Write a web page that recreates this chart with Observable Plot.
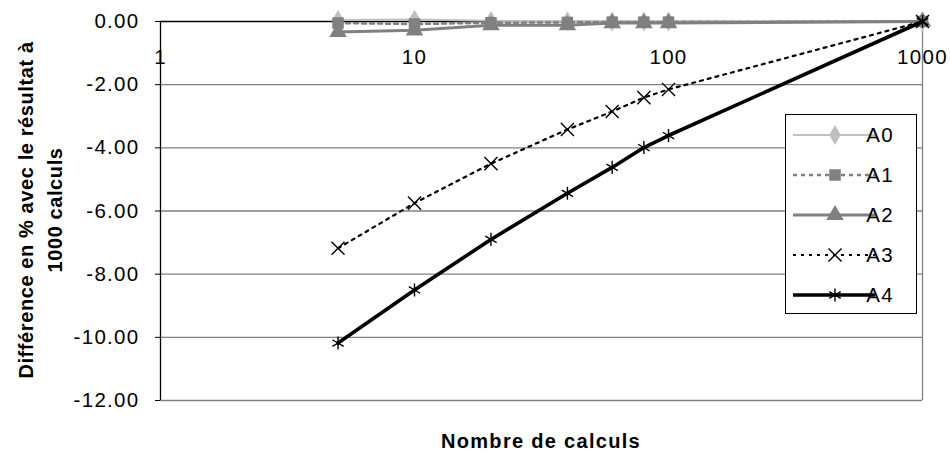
<!DOCTYPE html>
<html><head><meta charset="utf-8">
<script src="https://cdn.jsdelivr.net/npm/d3@7"></script>
<script src="https://cdn.jsdelivr.net/npm/@observablehq/plot@0.6"></script>
<style>
body{margin:0;background:#fff;}
#chart{width:950px;height:452px;}
</style></head><body><div id="chart"></div>
<script>
// ---- data ----
const calculs = [5, 10, 20, 40, 60, 80, 100, 1000];
const A0 = [0.05, 0.06, 0.02, 0.01, 0.0, 0.0, 0.0, 0.0];
const A1 = [-0.05, -0.08, -0.04, -0.03, -0.02, -0.02, -0.02, 0.0];
const A2 = [-0.33, -0.28, -0.12, -0.12, -0.05, -0.05, -0.05, 0.0];
const A3 = [-7.18, -5.75, -4.50, -3.42, -2.85, -2.41, -2.15, 0.0];
const A4 = [-10.18, -8.50, -6.90, -5.44, -4.62, -3.99, -3.61, 0.0];
const seriesNames = ["A0", "A1", "A2", "A3", "A4"];
const xTicks = [1, 10, 100, 1000];
const yTicks = [0, -2, -4, -6, -8, -10, -12];
const xTitle = "Nombre de calculs";
const yTitle = ["Différence en % avec le résultat à", "1000 calculs"];

// ---- styles ----
const seriesValues = {A0, A1, A2, A3, A4};
const styles = {
  A0: {stroke: "#c0c0c0", width: 2, dash: null, symbol: "diamond", fill: "#c0c0c0", mstroke: "none", r: 6, mw: 0},
  A1: {stroke: "#808080", width: 2.5, dash: "4,4", symbol: "square", fill: "#808080", mstroke: "none", r: 6.5, mw: 0},
  A2: {stroke: "#808080", width: 3, dash: null, symbol: "triangle", fill: "#808080", mstroke: "none", r: 6.5, mw: 0},
  A3: {stroke: "#000000", width: 2.2, dash: "3,5", symbol: "times", fill: "none", mstroke: "#000", r: 6, mw: 1.4},
  A4: {stroke: "#000000", width: 3.6, dash: null, symbol: "asterisk", fill: "none", mstroke: "#000", r: 6.2, mw: 1.4}
};
const font = "'Liberation Sans', Arial, sans-serif";

const rows = seriesNames.flatMap(s => calculs.map((n, j) => ({serie: s, n, v: seriesValues[s][j]})));

const seriesMarks = seriesNames.flatMap(s => {
  const st = styles[s];
  const data = rows.filter(d => d.serie === s);
  return [
    Plot.line(data, {x: "n", y: "v", stroke: st.stroke, strokeWidth: st.width, strokeDasharray: st.dash, strokeLinejoin: "round"}),
    Plot.dot(data, {x: "n", y: "v", symbol: () => st.symbol, fill: st.fill, stroke: st.mstroke, strokeWidth: st.mw, r: st.r})
  ];
});

const plot = Plot.plot({
  width: 950, height: 452,
  marginLeft: 160, marginRight: 28, marginTop: 21, marginBottom: 52,
  x: {type: "log", domain: [1, 1000], axis: null},
  y: {domain: [-12, 0], axis: null},
  symbol: {type: "identity"},
  style: {fontFamily: font, background: "#fff", color: "#000", letterSpacing: "1.3px"},
  marks: [
    Plot.ruleY(yTicks.filter(d => d < 0), {stroke: "#808080", strokeWidth: 1.3}),
    Plot.ruleX([1000], {stroke: "#808080", strokeWidth: 1.3}),
    Plot.ruleY([0], {stroke: "#000", strokeWidth: 1.3}),
    Plot.ruleX([1], {stroke: "#000", strokeWidth: 1.3}),
    Plot.axisY({ticks: yTicks, tickFormat: d => d.toFixed(2), tickSize: 5, tickPadding: 16, fontSize: 20.5, label: null, stroke: "#000"}),
    Plot.text(xTicks, {x: d => d, y: 0, dy: 36, text: d => String(d), fontSize: 20.5, fill: "#000"}),
    ...seriesMarks
  ]
});
document.getElementById("chart").appendChild(plot);

// ---- titles and legend ----
const svg = d3.select(plot);
svg.append("text").attr("x", 541).attr("y", 448).attr("text-anchor", "middle")
  .attr("font-size", 20).attr("font-weight", "bold").attr("font-family", font)
  .style("letter-spacing", "1.3px").text(xTitle);
yTitle.forEach((t, i) => {
  svg.append("text").attr("transform", `translate(${33 + i * 28.5},210) rotate(-90)`)
    .attr("text-anchor", "middle").attr("font-size", 20).attr("font-weight", "bold")
    .attr("font-family", font).style("letter-spacing", "0.6px").text(t);
});

const lg = svg.append("g");
lg.append("rect").attr("x", 785.5).attr("y", 114.5).attr("width", 131).attr("height", 199)
  .attr("fill", "#fff").attr("stroke", "#000").attr("stroke-width", 1);
const symMap = {diamond: d3.symbolDiamond, square: d3.symbolSquare, triangle: d3.symbolTriangle, times: d3.symbolTimes, asterisk: d3.symbolAsterisk};
seriesNames.forEach((s, i) => {
  const st = styles[s];
  const y = 135 + i * 40;
  lg.append("line").attr("x1", 793).attr("x2", 875).attr("y1", y).attr("y2", y)
    .attr("stroke", st.stroke).attr("stroke-width", st.width).attr("stroke-dasharray", st.dash);
  lg.append("path").attr("transform", `translate(835,${y})`)
    .attr("d", d3.symbol(symMap[st.symbol], st.r * st.r * Math.PI)())
    .attr("fill", st.fill).attr("stroke", st.mstroke).attr("stroke-width", st.mw);
  lg.append("text").attr("x", 880).attr("y", y).attr("dy", "0.36em")
    .attr("font-size", 20.5).attr("font-family", font).style("letter-spacing", "1.3px").text(s);
});
</script></body></html>
